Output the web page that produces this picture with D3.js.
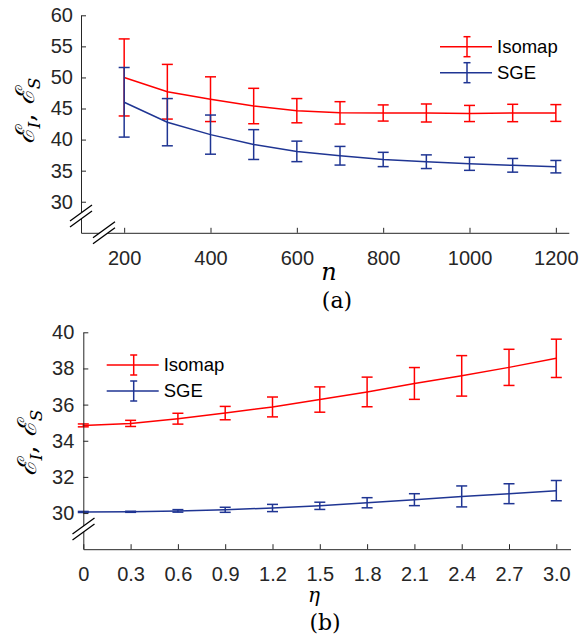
<!DOCTYPE html>
<html>
<head>
<meta charset="utf-8">
<script src="https://cdn.jsdelivr.net/npm/d3@7"></script>
<style>
  body { margin: 0; background: #fff; }
  svg { display: block; }
</style>
</head>
<body>
<div id="chart"></div>
<script>
// panel (a): error vs n
const nValues = [200, 300, 400, 500, 600, 700, 800, 900, 1000, 1100, 1200];
const isomapA = [50.0, 47.7, 46.5, 45.4, 44.65, 44.3, 44.28, 44.28, 44.2, 44.28, 44.28];
const isomapErrA = [6.2, 4.4, 3.6, 2.85, 1.95, 1.8, 1.3, 1.45, 1.3, 1.4, 1.35];
const sgeA = [46.0, 42.8, 40.8, 39.2, 38.1, 37.4, 36.8, 36.44, 36.1, 35.86, 35.64];
const sgeErrA = [5.6, 3.8, 3.15, 2.4, 1.65, 1.5, 1.15, 1.1, 1.05, 1.1, 1.0];
const xTicksA = [200, 400, 600, 800, 1000, 1200];
const yTicksA = [30, 35, 40, 45, 50, 55, 60];

// panel (b): error vs eta
const etaValues = [0, 0.3, 0.6, 0.9, 1.2, 1.5, 1.8, 2.1, 2.4, 2.7, 3.0];
const isomapB = [34.85, 34.96, 35.22, 35.53, 35.87, 36.28, 36.7, 37.17, 37.59, 38.06, 38.56];
const isomapErrB = [0.08, 0.17, 0.3, 0.37, 0.55, 0.7, 0.82, 0.88, 1.12, 1.0, 1.06];
const sgeB = [30.06, 30.07, 30.12, 30.18, 30.28, 30.4, 30.57, 30.74, 30.92, 31.07, 31.24];
const sgeErrB = [0.03, 0.03, 0.07, 0.14, 0.2, 0.2, 0.28, 0.33, 0.58, 0.55, 0.56];
const xTickLabelsB = ["0", "0.3", "0.6", "0.9", "1.2", "1.5", "1.8", "2.1", "2.4", "2.7", "3.0"];
const yTicksB = [30, 32, 34, 36, 38, 40];

const seriesNames = ["Isomap", "SGE"];

const width = 583, height = 641;
const red = "#ff0000";
const blue = "#1f3593";
const axisColor = "#262626";

const svg = d3.select("#chart").append("svg")
  .attr("width", width)
  .attr("height", height);

function drawBreak(g, cx, cy) {
  const dx = 11, dy = -8, off = 3;
  // white gap between the two slashes
  g.append("polygon")
    .attr("points", [
      [cx - dx, cy - dy - off], [cx + dx, cy + dy - off],
      [cx + dx, cy + dy + off], [cx - dx, cy - dy + off]
    ].map(p => p.join(",")).join(" "))
    .attr("fill", "#fff");
  [-off, off].forEach(o => {
    g.append("line")
      .attr("x1", cx - dx).attr("y1", cy - dy + o)
      .attr("x2", cx + dx).attr("y2", cy + dy + o)
      .attr("stroke", "#000").attr("stroke-width", 1.3);
  });
}

function drawErrorSeries(g, x, y, xs, means, errs, color) {
  const pts = xs.map((v, i) => ({ x: v, m: means[i], e: errs[i] }));
  g.append("path")
    .datum(pts)
    .attr("fill", "none")
    .attr("stroke", color)
    .attr("stroke-width", 1.5)
    .attr("d", d3.line().x(d => x(d.x)).y(d => y(d.m)));
  const bars = g.append("g").attr("stroke", color).attr("stroke-width", 1.5);
  pts.forEach(d => {
    const px = x(d.x), y1 = y(d.m + d.e), y2 = y(d.m - d.e);
    bars.append("line").attr("x1", px).attr("x2", px).attr("y1", y1).attr("y2", y2);
    bars.append("line").attr("x1", px - 5.5).attr("x2", px + 5.5).attr("y1", y1).attr("y2", y1);
    bars.append("line").attr("x1", px - 5.5).attr("x2", px + 5.5).attr("y1", y2).attr("y2", y2);
  });
}

function drawLegend(g, lx, ly, colors) {
  seriesNames.forEach((name, i) => {
    const yy = ly + i * 26;
    const c = colors[i];
    const item = g.append("g").attr("stroke", c).attr("stroke-width", 1.5);
    item.append("line").attr("x1", lx).attr("x2", lx + 52).attr("y1", yy).attr("y2", yy);
    const cx = lx + 27;
    item.append("line").attr("x1", cx).attr("x2", cx).attr("y1", yy - 10).attr("y2", yy + 10);
    item.append("line").attr("x1", cx - 3.5).attr("x2", cx + 3.5).attr("y1", yy - 10).attr("y2", yy - 10);
    item.append("line").attr("x1", cx - 3.5).attr("x2", cx + 3.5).attr("y1", yy + 10).attr("y2", yy + 10);
    g.append("text")
      .attr("x", lx + 57).attr("y", yy)
      .attr("dy", "0.35em")
      .attr("font-family", "Liberation Sans, Arial, sans-serif")
      .attr("font-size", 18.5)
      .attr("fill", "#000")
      .text(name);
  });
}

function styleAxis(ax) {
  ax.select(".domain").attr("stroke", axisColor);
  ax.selectAll(".tick line").attr("stroke", axisColor);
  ax.selectAll(".tick text")
    .attr("fill", axisColor)
    .attr("font-family", "Liberation Sans, Arial, sans-serif")
    .attr("font-size", 20);
}

function yLabel(g, cx, cy) {
  const t = g.append("text")
    .attr("transform", `translate(${cx},${cy}) rotate(-90)`)
    .attr("text-anchor", "middle")
    .attr("font-family", "DejaVu Serif, serif")
    .attr("font-size", 26)
    .attr("fill", "#000");
  t.append("tspan").attr("font-style", "italic").text("\u2130");
  t.append("tspan").attr("font-style", "italic").attr("font-size", 17).attr("dy", 6).text("I");
  t.append("tspan").attr("dy", -6).text(", ");
  t.append("tspan").attr("font-style", "italic").text("\u2130");
  t.append("tspan").attr("font-style", "italic").attr("font-size", 17).attr("dy", 6).text("S");
}

// ---------- panel (a) ----------
const gA = svg.append("g");
const xA = d3.scaleLinear().domain([100, 1230]).range([81, 568.8]);
const yA = d3.scaleLinear().domain([25, 60]).range([232.8, 15.3]);

drawErrorSeries(gA, xA, yA, nValues, isomapA, isomapErrA, red);
drawErrorSeries(gA, xA, yA, nValues, sgeA, sgeErrA, blue);

const axLA = gA.append("g").attr("transform", `translate(${xA.range()[0]},0)`)
  .call(d3.axisLeft(yA).tickValues(yTicksA).tickSizeInner(-5).tickSizeOuter(0).tickPadding(8));
styleAxis(axLA);
const axBA = gA.append("g").attr("transform", `translate(0,${yA.range()[0]})`)
  .call(d3.axisBottom(xA).tickValues(xTicksA).tickFormat(d3.format("d"))
    .tickSizeInner(-5).tickSizeOuter(0).tickPadding(18));
styleAxis(axBA);

drawBreak(gA, 81, 216);
drawBreak(gA, 104, 232.8);

drawLegend(gA, 440, 46.7, [red, blue]);
yLabel(gA, 34, 111);

gA.append("text")
  .attr("x", 329).attr("y", 280)
  .attr("text-anchor", "middle")
  .attr("font-family", "DejaVu Serif, serif")
  .attr("font-style", "italic")
  .attr("font-size", 24)
  .text("n");
gA.append("text")
  .attr("x", 337).attr("y", 308)
  .attr("text-anchor", "middle")
  .attr("font-family", "DejaVu Serif, serif")
  .attr("font-size", 22)
  .text("(a)");

// ---------- panel (b) ----------
const gB = svg.append("g");
const xB = d3.scaleLinear().domain([0, 3.09]).range([83.3, 570.5]);
const yB = d3.scaleLinear().domain([28, 40]).range([549.2, 332.3]);

drawErrorSeries(gB, xB, yB, etaValues, isomapB, isomapErrB, red);
drawErrorSeries(gB, xB, yB, etaValues, sgeB, sgeErrB, blue);

const axLB = gB.append("g").attr("transform", `translate(${xB.range()[0]},0)`)
  .call(d3.axisLeft(yB).tickValues(yTicksB).tickSizeInner(-5).tickSizeOuter(0).tickPadding(9));
styleAxis(axLB);
const axBB = gB.append("g").attr("transform", `translate(0,${yB.range()[0]})`)
  .call(d3.axisBottom(xB).tickValues(etaValues).tickFormat((d, i) => xTickLabelsB[i])
    .tickSizeInner(-5).tickSizeOuter(0).tickPadding(18));
styleAxis(axBB);

drawBreak(gB, 83.5, 529);

drawLegend(gB, 106.7, 365, [red, blue]);
yLabel(gB, 36, 443);

gB.append("text")
  .attr("x", 314).attr("y", 602)
  .attr("text-anchor", "middle")
  .attr("font-family", "DejaVu Serif, serif")
  .attr("font-style", "italic")
  .attr("font-size", 20)
  .text("\u03b7");
gB.append("text")
  .attr("x", 325).attr("y", 630)
  .attr("text-anchor", "middle")
  .attr("font-family", "DejaVu Serif, serif")
  .attr("font-size", 22)
  .text("(b)");
</script>
</body>
</html>
